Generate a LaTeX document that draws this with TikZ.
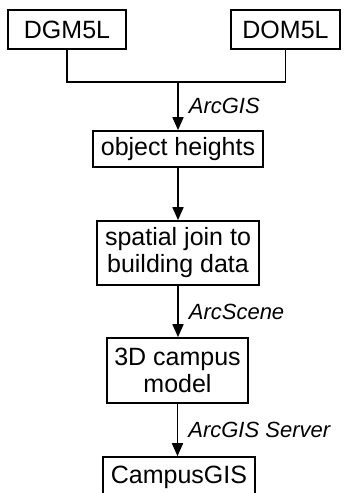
\documentclass[tikz,border=0pt]{standalone}
\usepackage{fontspec}
\setmainfont{Liberation Sans}
\usepackage{tikz}
\usetikzlibrary{positioning,arrows.meta}
\tikzset{
  stepbox/.style={draw, line width=1.7pt, inner sep=0pt, align=center,
                  font=\fontsize{25}{27}\selectfont},
  tool/.style={font=\fontsize{22}{24}\selectfont\itshape, inner sep=1pt},
  fwd/.style={-{Triangle[length=13pt,width=11pt]}, line width=1.7pt},
  joinline/.style={line width=1.7pt},
}

\begin{document}
\begin{tikzpicture}[x=1pt,y=1pt]
  \clip (0,0) rectangle (344,-493);

  \node[stepbox, minimum width=118pt, minimum height=39pt] (dgm) at (67,-29.5) {DGM5L};
  \node[stepbox, minimum width=109pt, minimum height=39pt] (dom) at (285.5,-29.5) {DOM5L};
  \node[stepbox, minimum width=170pt, minimum height=36pt] (heights) at (178,-149) {object heights};
  \node[stepbox, minimum width=162pt, minimum height=64pt] (join) at (178,-253) {spatial join to\\building data};
  \node[stepbox, minimum width=141pt, minimum height=65pt] (model) at (177.5,-370.5) {3D campus\\model};
  \node[stepbox, minimum width=152pt, minimum height=40pt] (campus) at (179,-477) {CampusGIS};

  \coordinate (merge) at (178,-82);

  \draw[joinline] (dgm.south) |- (merge) -| (dom.south);
  \draw[fwd] (merge) -- (heights.north)
    node[tool, midway, right=9pt] {ArcGIS};
  \draw[fwd] (heights.south) -- (join.north);
  \draw[fwd] (join.south) -- (join.south |- model.north)
    node[tool, midway, right=9pt] {ArcScene};
  \draw[fwd] (model.south) -- (model.south |- campus.north)
    node[tool, midway, right=9pt] {ArcGIS Server};
\end{tikzpicture}
\end{document}
